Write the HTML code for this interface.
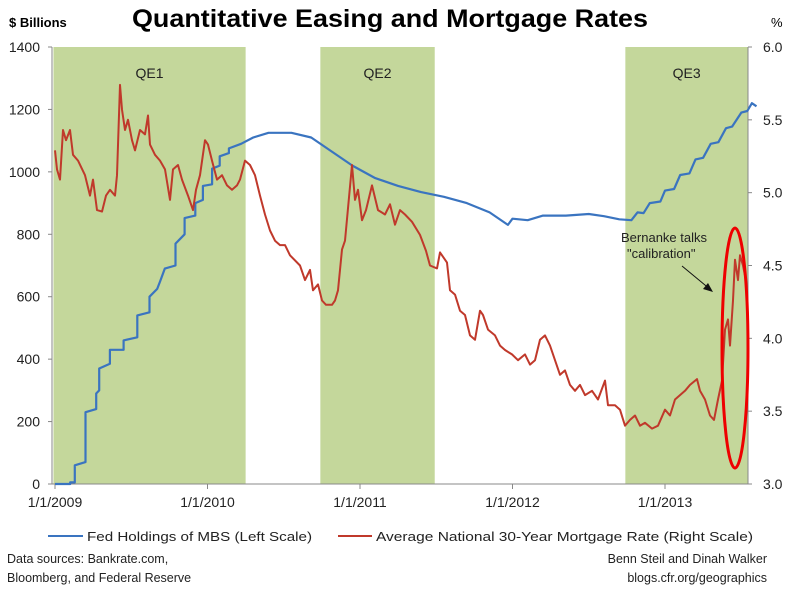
<!DOCTYPE html>
<html><head><meta charset="utf-8"><style>
html,body{margin:0;padding:0;background:#fff;}
svg{display:block;font-family:"Liberation Sans",sans-serif;}
</style></head><body>
<svg id="chart" width="800" height="599" viewBox="0 0 800 599" xmlns="http://www.w3.org/2000/svg">
<text x="390" y="27" text-anchor="middle" font-size="25" font-weight="bold" textLength="516" lengthAdjust="spacingAndGlyphs">Quantitative Easing and Mortgage Rates</text>
<text x="9" y="27" font-size="13" font-weight="bold">$ Billions</text>
<text x="771" y="27" font-size="13">%</text>
<g id="bands"></g><g id="axes"></g><g id="series"></g>
<ellipse cx="735" cy="348" rx="13" ry="120" fill="none" stroke="#e00" stroke-width="3"/>
<text x="621" y="242" font-size="13" fill="#222">Bernanke talks</text>
<text x="627" y="258" font-size="13" fill="#222">"calibration"</text>
<line x1="682" y1="266" x2="711" y2="290" stroke="#111" stroke-width="1"/>
<polygon points="713,292 703,289 708,283" fill="#111"/>
<g>
<line x1="48" y1="536" x2="83" y2="536" stroke="#3a74c0" stroke-width="2"/>
<text x="87" y="541" font-size="13" fill="#222" textLength="225" lengthAdjust="spacingAndGlyphs">Fed Holdings of MBS (Left Scale)</text>
<line x1="338" y1="536" x2="372" y2="536" stroke="#c0392b" stroke-width="2"/>
<text x="376" y="541" font-size="13" fill="#222" textLength="377" lengthAdjust="spacingAndGlyphs">Average National 30-Year Mortgage Rate (Right Scale)</text>
</g>
<text x="7" y="563" font-size="12.5" fill="#222">Data sources: Bankrate.com,</text>
<text x="7" y="582" font-size="12.5" fill="#222">Bloomberg, and Federal Reserve</text>
<text x="767" y="563" text-anchor="end" font-size="12.5" fill="#222">Benn Steil and Dinah Walker</text>
<text x="767" y="582" text-anchor="end" font-size="12.5" fill="#222">blogs.cfr.org/geographics</text>
</svg>
<script>
const NS="http://www.w3.org/2000/svg";
const leftTicks=[0,200,400,600,800,1000,1200,1400];
const rightTicks=["3.0","3.5","4.0","4.5","5.0","5.5","6.0"];
const yearTicks=[2009,2010,2011,2012,2013];
const yearLabels=["1/1/2009","1/1/2010","1/1/2011","1/1/2012","1/1/2013"];
const qeNames=["QE1","QE2","QE3"];
const qeStart=[2008.99,2010.74,2012.74];
const qeEnd=[2010.25,2011.49,2013.6];
const mbsDates=[2009.0,2009.1,2009.1,2009.13,2009.13,2009.2,2009.2,2009.27,2009.27,2009.29,2009.29,2009.36,2009.36,2009.45,2009.45,2009.54,2009.54,2009.62,2009.62,2009.67,2009.69,2009.72,2009.79,2009.79,2009.85,2009.85,2009.92,2009.92,2009.97,2009.97,2010.03,2010.03,2010.08,2010.08,2010.14,2010.14,2010.22,2010.3,2010.4,2010.55,2010.68,2010.8,2010.95,2011.1,2011.25,2011.4,2011.55,2011.7,2011.85,2011.97,2012.0,2012.1,2012.2,2012.35,2012.5,2012.6,2012.7,2012.78,2012.82,2012.86,2012.9,2012.97,2013.0,2013.06,2013.1,2013.16,2013.2,2013.25,2013.3,2013.35,2013.4,2013.44,2013.5,2013.54,2013.57,2013.6];
const mbsValues=[0,0,5,5,60,70,230,240,290,300,370,385,430,430,460,470,540,550,600,625,650,690,700,770,800,852,860,900,910,955,960,1010,1020,1050,1060,1075,1090,1110,1125,1125,1110,1070,1020,980,955,935,920,900,870,830,850,845,860,860,865,858,848,845,870,868,900,905,940,945,990,995,1040,1045,1090,1095,1140,1145,1190,1195,1220,1210];
const ratePx=[55,57,60,63,66,70,73,78,85,90,93,97,102,106,110,115,117,120,122,125,128,132,135,140,145,148,150,155,160,165,170,173,178,182,188,193,196,200,205,208,212,217,222,227,232,237,240,245,250,255,260,265,270,275,280,285,290,300,305,310,313,318,322,326,332,335,338,342,345,352,355,358,362,366,372,378,385,390,395,400,405,412,420,426,430,437,440,447,450,455,460,465,470,475,480,483,488,495,500,505,512,518,525,530,535,540,545,550,555,560,565,570,575,580,585,592,598,605,608,615,620,625,630,635,640,645,652,658,665,670,675,680,685,690,697,700,705,710,714,718,722,725,728,730,733,735,738,740,743,745];
const rateValues=[5.29,5.16,5.09,5.43,5.36,5.43,5.26,5.22,5.12,4.98,5.09,4.88,4.87,4.98,5.02,4.98,5.12,5.74,5.57,5.43,5.50,5.36,5.29,5.43,5.40,5.53,5.33,5.26,5.22,5.16,4.95,5.16,5.19,5.09,4.98,4.88,5.02,5.12,5.36,5.33,5.22,5.09,5.12,5.05,5.02,5.05,5.09,5.22,5.19,5.12,4.98,4.85,4.74,4.67,4.64,4.64,4.57,4.50,4.40,4.47,4.33,4.37,4.26,4.23,4.23,4.26,4.33,4.61,4.67,5.19,4.95,5.02,4.81,4.88,5.05,4.88,4.85,4.92,4.78,4.88,4.85,4.80,4.71,4.60,4.50,4.48,4.59,4.52,4.33,4.30,4.19,4.16,4.02,3.99,4.19,4.16,4.06,4.02,3.95,3.92,3.89,3.85,3.89,3.82,3.85,3.99,4.02,3.95,3.85,3.75,3.78,3.68,3.64,3.68,3.61,3.64,3.58,3.71,3.54,3.54,3.51,3.40,3.44,3.47,3.40,3.42,3.38,3.40,3.51,3.47,3.58,3.61,3.64,3.68,3.72,3.64,3.58,3.47,3.44,3.58,3.71,4.06,4.13,3.95,4.26,4.54,4.40,4.57,4.50,4.43];
const rateDates=ratePx.map(p=>2009+(p-55)/152.5);
const X0=55,PXY=152.5,TOP=47,BOT=484,LEFTX=52,RIGHTX=748;
const xs=d=>X0+(d-2009)*PXY;
const yL=v=>BOT-(v/1400)*(BOT-TOP);
const yR=v=>BOT-((v-3)/3)*(BOT-TOP);
function mk(tag,attrs,parent,text){const e=document.createElementNS(NS,tag);for(const k in attrs)e.setAttribute(k,attrs[k]);if(text!==undefined)e.textContent=text;parent.appendChild(e);return e;}
const bands=document.getElementById('bands'),axes=document.getElementById('axes'),series=document.getElementById('series');
qeNames.forEach((n,i)=>{const x1=Math.max(LEFTX+1,xs(qeStart[i])),x2=Math.min(RIGHTX,xs(qeEnd[i]));
const r=mk('rect',{x:x1,y:TOP,width:x2-x1,height:BOT-TOP,fill:'#c4d79b'},bands);


const t=mk('text',{x:(x1+x2)/2,y:78,'text-anchor':'middle','font-size':14,fill:'#222'},bands,n);

});
const la=mk('line',{x1:LEFTX,y1:TOP,x2:LEFTX,y2:BOT,stroke:'#888'},axes);


const ra=mk('line',{x1:RIGHTX,y1:TOP,x2:RIGHTX,y2:BOT,stroke:'#888'},axes);


const xa=mk('line',{x1:LEFTX,y1:BOT,x2:RIGHTX,y2:BOT,stroke:'#888'},axes);


leftTicks.forEach(v=>{const y=yL(v);mk('line',{x1:LEFTX-4,y1:y,x2:LEFTX,y2:y,stroke:'#888'},axes);
const t=mk('text',{x:40,y:y+5,'text-anchor':'end','font-size':14,fill:'#222'},axes,String(v));

});
rightTicks.forEach(v=>{const y=yR(parseFloat(v));mk('line',{x1:RIGHTX,y1:y,x2:RIGHTX+4,y2:y,stroke:'#888'},axes);
const t=mk('text',{x:763,y:y+5,'font-size':14,fill:'#222'},axes,v);

});
yearTicks.forEach((yr,i)=>{const x=xs(yr);mk('line',{x1:x,y1:BOT,x2:x,y2:BOT+5,stroke:'#888'},axes);
const t=mk('text',{x:x,y:507,'text-anchor':'middle','font-size':14,fill:'#222'},axes,yearLabels[i]);

});
const bp=mbsDates.map((dt,i)=>xs(dt).toFixed(1)+','+yL(mbsValues[i]).toFixed(1)).join(' ');
const bl=mk('polyline',{points:bp,fill:'none',stroke:'#3a74c0','stroke-width':2.2,'stroke-linejoin':'round'},series);


const rp=rateDates.map((dt,i)=>xs(dt).toFixed(1)+','+yR(rateValues[i]).toFixed(1)).join(' ');
const rl=mk('polyline',{points:rp,fill:'none',stroke:'#c0392b','stroke-width':2,'stroke-linejoin':'round'},series);


</script>
</body></html>
